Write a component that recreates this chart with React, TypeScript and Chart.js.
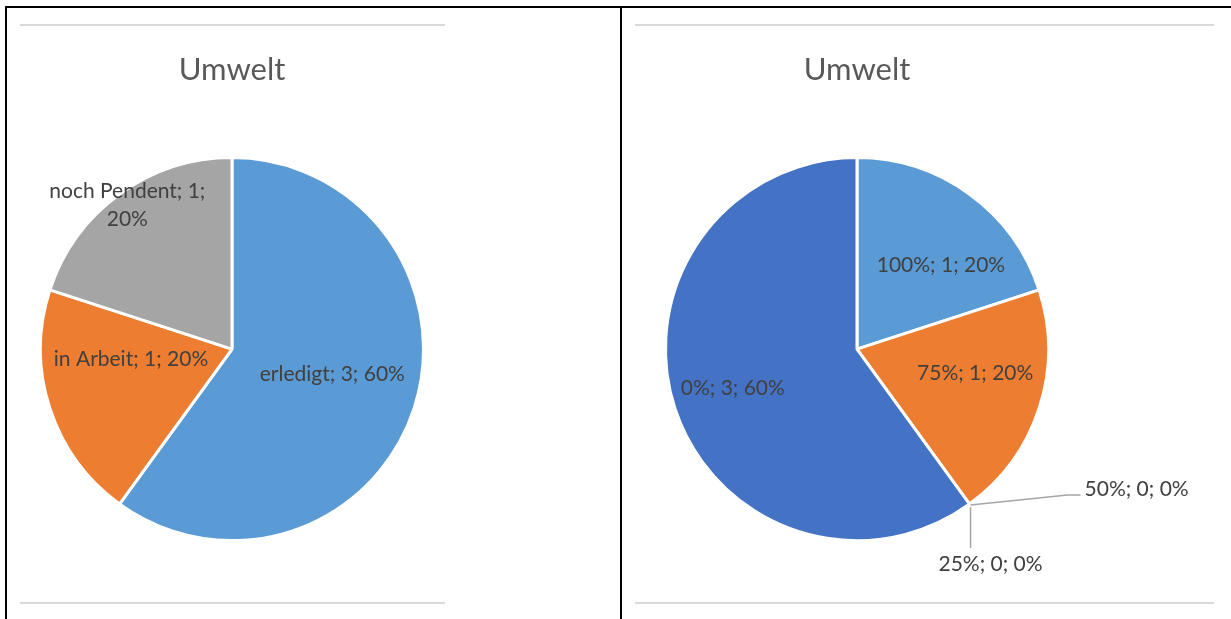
import React, { useEffect, useRef } from "react";
import { Chart, registerables } from "chart.js";

Chart.register(...registerables);

const chartTitle = "Umwelt";

const leftCategories = ["erledigt", "in Arbeit", "noch Pendent"];
const leftValues = [3, 1, 1];
const leftColors = ["#5B9BD5", "#ED7D31", "#A5A5A5"];

const rightCategories = ["100%", "75%", "50%", "25%", "0%"];
const rightValues = [1, 1, 0, 0, 3];
const rightColors = ["#5B9BD5", "#ED7D31", "#A5A5A5", "#FFC000", "#4472C4"];

type Placement =
  | { kind: "inside"; f: number; da: number; maxWidth?: number }
  | { kind: "outside"; dx: number; dy: number; align: CanvasTextAlign; leader: number[][] };

const leftPlacements: Placement[] = [
  { kind: "inside", f: 0.54, da: -4 },
  { kind: "inside", f: 0.53, da: 12 },
  { kind: "inside", f: 0.93, da: 0, maxWidth: 180 },
];

const rightPlacements: Placement[] = [
  { kind: "inside", f: 0.62, da: 9 },
  { kind: "inside", f: 0.63, da: -6.4 },
  { kind: "outside", dx: 115, dy: -15, align: "left", leader: [[1, 1], [98, -9], [111, -9]] },
  { kind: "outside", dx: 21, dy: 60, align: "center", leader: [[1, 3], [1, 44]] },
  { kind: "inside", f: 0.68, da: 0.5 },
];

const FONT_FAMILY = "Lato, 'Open Sans', sans-serif";
const LABEL_SIZE = 21;
const LABEL_LINE = 28;

function wrapText(ctx: CanvasRenderingContext2D, text: string, maxWidth?: number): string[] {
  if (!maxWidth) return [text];
  const words = text.split(" ");
  const lines: string[] = [];
  let cur = "";
  for (const w of words) {
    const test = cur ? cur + " " + w : w;
    if (ctx.measureText(test).width > maxWidth && cur) {
      lines.push(cur);
      cur = w;
    } else {
      cur = test;
    }
  }
  if (cur) lines.push(cur);
  return lines;
}

function makeLabelPlugin(placements: Placement[]) {
  return {
    id: "sliceLabels",
    afterDatasetsDraw(chart: any) {
      const ctx: CanvasRenderingContext2D = chart.ctx;
      const meta = chart.getDatasetMeta(0);
      const data = chart.data.datasets[0].data as number[];
      const labels = chart.data.labels as string[];
      const total = data.reduce((a, b) => a + b, 0);
      ctx.save();
      ctx.font = `${LABEL_SIZE}px ${FONT_FAMILY}`;
      ctx.fillStyle = "#404040";
      ctx.textBaseline = "middle";
      meta.data.forEach((el: any, i: number) => {
        const { x, y, startAngle, endAngle, outerRadius } = el.getProps(
          ["x", "y", "startAngle", "endAngle", "outerRadius"],
          true
        );
        const v = data[i];
        const pct = Math.round((v / total) * 100);
        const text = `${labels[i]}; ${v}; ${pct}%`;
        const p = placements[i];
        const mid = (startAngle + endAngle) / 2;
        if (p.kind === "inside") {
          const a = mid + (p.da * Math.PI) / 180;
          const cx = x + Math.cos(a) * outerRadius * p.f;
          const cy = y + Math.sin(a) * outerRadius * p.f;
          const lines = wrapText(ctx, text, p.maxWidth);
          ctx.textAlign = "center";
          const y0 = cy - ((lines.length - 1) * LABEL_LINE) / 2;
          lines.forEach((ln, k) => ctx.fillText(ln, cx, y0 + k * LABEL_LINE));
        } else {
          const ax = x + Math.cos(mid) * outerRadius;
          const ay = y + Math.sin(mid) * outerRadius;
          ctx.strokeStyle = "#A6A6A6";
          ctx.lineWidth = 1.5;
          ctx.beginPath();
          p.leader.forEach((pt, k) => {
            if (k === 0) ctx.moveTo(ax + pt[0], ay + pt[1]);
            else ctx.lineTo(ax + pt[0], ay + pt[1]);
          });
          ctx.stroke();
          ctx.textAlign = p.align;
          ctx.fillText(text, ax + p.dx, ay + p.dy);
        }
      });
      ctx.restore();
    },
  };
}

function PieChart(props: {
  labels: string[];
  values: number[];
  colors: string[];
  placements: Placement[];
  left: number;
  width: number;
  paddingRight: number;
}) {
  const ref = useRef<HTMLCanvasElement | null>(null);
  useEffect(() => {
    if (!ref.current) return;
    const chart = new Chart(ref.current, {
      type: "pie",
      data: {
        labels: props.labels,
        datasets: [
          {
            data: props.values,
            backgroundColor: props.colors,
            borderColor: "#FFFFFF",
            borderWidth: 3,
            radius: 191.5,
          } as any,
        ],
      },
      options: {
        animation: false,
        responsive: false,
        maintainAspectRatio: false,
        events: [],
        layout: { padding: { left: 0, right: props.paddingRight, top: 0, bottom: 9 } },
        plugins: {
          legend: { display: false },
          tooltip: { enabled: false },
          title: {
            display: true,
            text: chartTitle,
            color: "#595959",
            font: { family: FONT_FAMILY, size: 31, weight: "normal", lineHeight: 1.2 },
            padding: { top: 43, bottom: 0 },
          },
        },
      },
      plugins: [makeLabelPlugin(props.placements)],
    });
    return () => chart.destroy();
  }, []);
  return (
    <canvas
      ref={ref}
      width={props.width}
      height={611}
      style={{ position: "absolute", left: props.left, top: 8, width: props.width, height: 611 }}
    />
  );
}

const box = (s: React.CSSProperties): React.CSSProperties => ({ position: "absolute", ...s });

export default function App() {
  return (
    <div style={box({ left: 0, top: 0, width: 1231, height: 619, background: "#fff", overflow: "hidden" })}>
      <PieChart
        labels={leftCategories}
        values={leftValues}
        colors={leftColors}
        placements={leftPlacements}
        left={8}
        width={448}
        paddingRight={0}
      />
      <PieChart
        labels={rightCategories}
        values={rightValues}
        colors={rightColors}
        placements={rightPlacements}
        left={622}
        width={609}
        paddingRight={139}
      />
      <div style={box({ left: 20, top: 24, width: 425, height: 2, background: "#D9D9D9" })} />
      <div style={box({ left: 20, top: 602, width: 425, height: 2, background: "#D9D9D9" })} />
      <div style={box({ left: 635, top: 24, width: 579, height: 2, background: "#D9D9D9" })} />
      <div style={box({ left: 635, top: 602, width: 579, height: 2, background: "#D9D9D9" })} />
      <div style={box({ left: 5, top: 6, width: 1226, height: 2, background: "#000" })} />
      <div style={box({ left: 5, top: 6, width: 2, height: 613, background: "#000" })} />
      <div style={box({ left: 620, top: 6, width: 2, height: 613, background: "#000" })} />
    </div>
  );
}
